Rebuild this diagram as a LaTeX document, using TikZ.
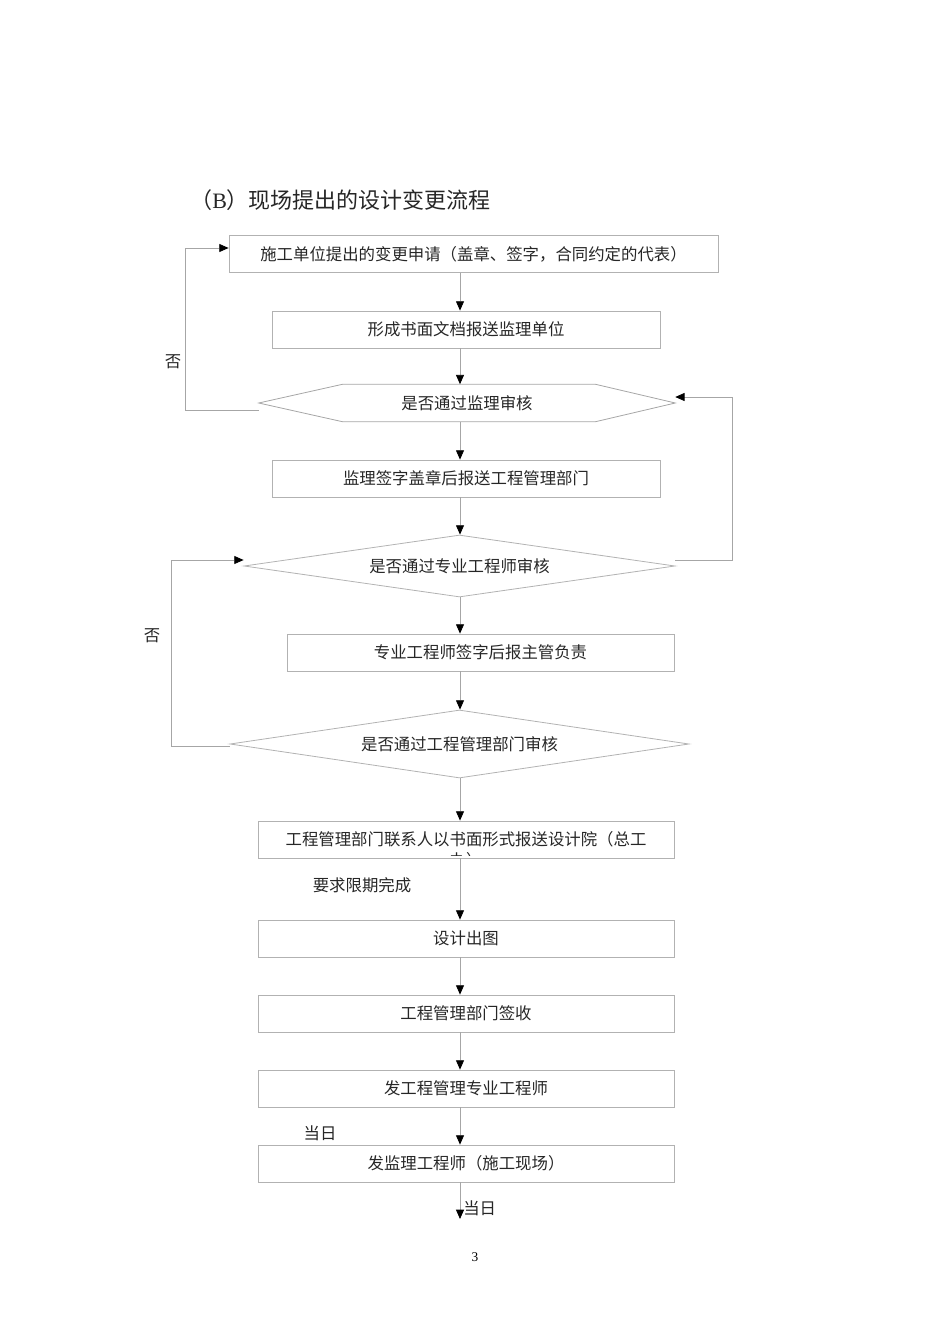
\documentclass[tikz,border=0pt]{standalone}
\usepackage{fontspec}
\setmainfont{Liberation Serif}
\newfontfamily\cjk{Noto Sans CJK SC}
\usetikzlibrary{arrows.meta,shapes.geometric,calc}
\begin{document}
\begin{tikzpicture}[x=0.75pt,y=-0.75pt,
  txt/.style={font=\cjk\fontsize{12.3}{14}\selectfont, text=black!85},
  box/.style={txt, draw=black!30, line width=0.6pt, inner sep=0pt, minimum height=27.75pt},
  dia/.style={txt, diamond, draw=black!30, line width=0.6pt, inner sep=0pt},
  conn/.style={draw=black!35, line width=0.6pt},
  arr/.style={conn, -{Triangle[color=black,length=7pt,width=6pt]}},
  lbl/.style={txt, inner sep=0pt}]
\useasboundingbox (0,0) rectangle (950,1344);
\coordinate (col) at (460,0);

\node[font=\cjk\fontsize{16.5}{20}\selectfont, text=black!85, anchor=west, inner sep=0pt] (title) at (190,200) {（{\rmfamily B}）现场提出的设计变更流程};

\node[box, minimum width=366.75pt] (b1) at (473.5,254) {施工单位提出的变更申请（盖章、签字，合同约定的代表）};
\node[box, minimum width=291pt] (b2) at (466,329.5) {形成书面文档报送监理单位};
\node[txt, inner sep=0pt, minimum width=312pt, minimum height=27.75pt] (hex) at (467,403) {是否通过监理审核};
\draw[conn] (hex.west) -- ($(hex.north west)+(84,0)$) -- ($(hex.north east)+(-80,0)$) -- (hex.east) -- ($(hex.south east)+(-80,0)$) -- ($(hex.south west)+(84,0)$) -- cycle;
\node[box, minimum width=291pt] (b3) at (466,478.5) {监理签字盖章后报送工程管理部门};
\node[dia, aspect=6.95, minimum width=323.25pt, minimum height=46.5pt] (d2) at (459.5,566) {是否通过专业工程师审核};
\node[box, minimum width=290.25pt] (b4) at (480.5,652.5) {专业工程师签字后报主管负责};
\node[dia, aspect=6.75, minimum width=344.25pt, minimum height=51pt] (d3) at (459.5,744) {是否通过工程管理部门审核};
\node[box, minimum width=312pt] (b5) at (466,839.5) {工程管理部门联系人以书面形式报送设计院（总工};
\begin{scope}
  \clip ($(b5.south west)+(0,-3)$) rectangle (b5.north east);
  \node[lbl] (b5x) at (466,860) {办）};
\end{scope}
\node[box, minimum width=312pt] (b6) at (466,938.5) {设计出图};
\node[box, minimum width=312pt] (b7) at (466,1013.5) {工程管理部门签收};
\node[box, minimum width=312pt] (b8) at (466,1088.5) {发工程管理专业工程师};
\node[box, minimum width=312pt] (b9) at (466,1163.5) {发监理工程师（施工现场）};
\coordinate (end) at (460,1219);

% vertical arrows
\draw[arr] (b1.south -| col) -- (b2.north -| col);
\draw[arr] (b2.south -| col) -- (hex.north -| col);
\draw[arr] (hex.south -| col) -- (b3.north -| col);
\draw[arr] (b3.south -| col) -- (d2.north -| col);
\draw[arr] (d2.south -| col) -- (b4.north -| col);
\draw[arr] (b4.south -| col) -- (d3.north -| col);
\draw[arr] (d3.south -| col) -- (b5.north -| col);
\draw[arr] (b5.south -| col) -- (b6.north -| col);
\draw[arr] (b6.south -| col) -- (b7.north -| col);
\draw[arr] (b7.south -| col) -- (b8.north -| col);
\draw[arr] (b8.south -| col) -- (b9.north -| col);
\draw[arr] (b9.south -| col) -- (end);

% loops
\draw[arr] ($(hex.west)+(0,7)$) -- ++(-73,0) |- ($(b1.west)+(0,-6)$);
\draw[arr] ($(d2.east)+(0,-6)$) -- ++(57,0) |- ($(hex.east)+(0,-6)$);
\draw[arr] ($(d3.west)+(0,2)$) -- ++(-58,0) |- ($(d2.west)+(0,-6)$);

% labels
\node[lbl] (no1) at (173,362) {否};
\node[lbl] (no2) at (152,636) {否};
\node[lbl] (lim) at (362,885) {要求限期完成};
\node[lbl] (day1) at (320,1133) {当日};
\node[lbl, anchor=west] (day2) at (463,1208) {当日};
\node[font=\fontsize{10}{12}\selectfont, inner sep=0pt] (pg) at (475,1257) {3};
\end{tikzpicture}
\end{document}
